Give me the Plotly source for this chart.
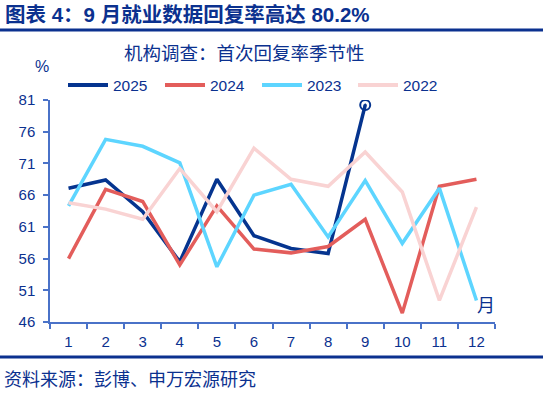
import plotly.graph_objects as go

months = ["1", "2", "3", "4", "5", "6", "7", "8", "9", "10", "11", "12"]
y2025 = [67.1, 68.4, 63.4, 55.5, 68.5, 59.6, 57.6, 56.8, 80.2]
y2024 = [56.0, 66.9, 65.0, 55.0, 64.3, 57.5, 56.9, 57.9, 62.2, 47.4, 67.4, 68.5]
y2023 = [64.3, 74.8, 73.7, 71.1, 54.7, 66.0, 67.7, 59.4, 68.3, 58.4, 67.1, 49.4]
y2022 = [64.8, 63.8, 62.2, 70.2, 63.4, 73.4, 68.5, 67.4, 72.8, 66.5, 49.4, 64.1]
y_ticks = [46, 51, 56, 61, 66, 71, 76, 81]
series_names = ["2025", "2024", "2023", "2022"]

NAVY = "#0B318F"
AXIS = "#4A72C8"
FONT = "Liberation Sans, Arial, Noto Sans CJK SC, sans-serif"
W, H = 543, 395
L, R, T, B = 50, 48, 100, 73
pw, ph = W - L - R, H - T - B

def px(x):
    return (x - L) / pw

def py(y):
    return (H - B - y) / ph

colors = ["#05348F", "#E35D5B", "#5DD5FF", "#F9D3D3"]
data = [y2025, y2024, y2023, y2022]

fig = go.Figure()
for name, ys, col in zip(series_names, data, colors):
    fig.add_trace(go.Scatter(x=months[:len(ys)], y=ys, mode="lines", name=name,
                             line=dict(color=col, width=3.5)))
# end marker for 2025
fig.add_trace(go.Scatter(x=[months[len(y2025) - 1]], y=[y2025[-1]], mode="markers",
                         showlegend=False,
                         marker=dict(symbol="circle-open-dot", size=10, color="#05348F",
                                     line=dict(width=2, color="#05348F"))))

fig.update_layout(
    width=W, height=H,
    margin=dict(l=L, r=R, t=T, b=B),
    paper_bgcolor="white", plot_bgcolor="white",
    font=dict(family=FONT, color=NAVY, size=14),
    showlegend=False,
    xaxis=dict(type="category", range=[-0.5, 11.5], showgrid=False, zeroline=False,
               showline=True, linecolor=AXIS, linewidth=1.5,
               ticks="outside", ticklen=5, tickcolor=AXIS, tickwidth=1.5,
               tickson="boundaries", ticklabelstandoff=5,
               tickfont=dict(size=15, color=NAVY)),
    yaxis=dict(range=[46, 81], tickvals=y_ticks, showgrid=False, zeroline=False,
               showline=True, linecolor=AXIS, linewidth=1.5,
               ticks="outside", ticklen=5, tickcolor=AXIS, tickwidth=1.5,
               ticklabelstandoff=5,
               tickfont=dict(size=15, color=NAVY)),
)

shapes = [
    dict(type="line", xref="paper", yref="paper", x0=px(0), x1=px(W), y0=py(30), y1=py(30),
         line=dict(color="#0B318F", width=3)),
    dict(type="line", xref="paper", yref="paper", x0=px(0), x1=px(W), y0=py(357), y1=py(357),
         line=dict(color="#0B318F", width=3)),
]
ann = [
    dict(text="<b>图表 4：9 月就业数据回复率高达 80.2%</b>", x=px(3), y=py(15),
         xanchor="left", yanchor="middle", font=dict(size=20.5, color=NAVY)),
    dict(text="机构调查：首次回复率季节性", x=px(244), y=py(54),
         xanchor="center", yanchor="middle", font=dict(size=18.5, color=NAVY)),
    dict(text="%", x=px(42), y=py(66), xanchor="center", yanchor="middle",
         font=dict(size=16, color=NAVY)),
    dict(text="月", x=px(486), y=py(306), xanchor="center", yanchor="middle",
         font=dict(size=18, color=NAVY)),
    dict(text="资料来源：彭博、申万宏源研究", x=px(2), y=py(380),
         xanchor="left", yanchor="middle", font=dict(size=18, color=NAVY)),
]
# manual legend
leg_x = [68, 165, 262, 358]
for x0, name, col in zip(leg_x, series_names, colors):
    shapes.append(dict(type="line", xref="paper", yref="paper", x0=px(x0), x1=px(x0 + 40),
                       y0=py(85), y1=py(85), line=dict(color=col, width=4)))
    ann.append(dict(text=name, x=px(x0 + 43), y=py(85), xanchor="left", yanchor="middle",
                    font=dict(size=15.5, color=NAVY)))
for a in ann:
    a.update(xref="paper", yref="paper", showarrow=False)
fig.update_layout(shapes=shapes, annotations=ann)

fig.write_html("out.html", config={"displayModeBar": False},
               post_script="document.body.style.margin='0';document.body.style.overflow='hidden';")
